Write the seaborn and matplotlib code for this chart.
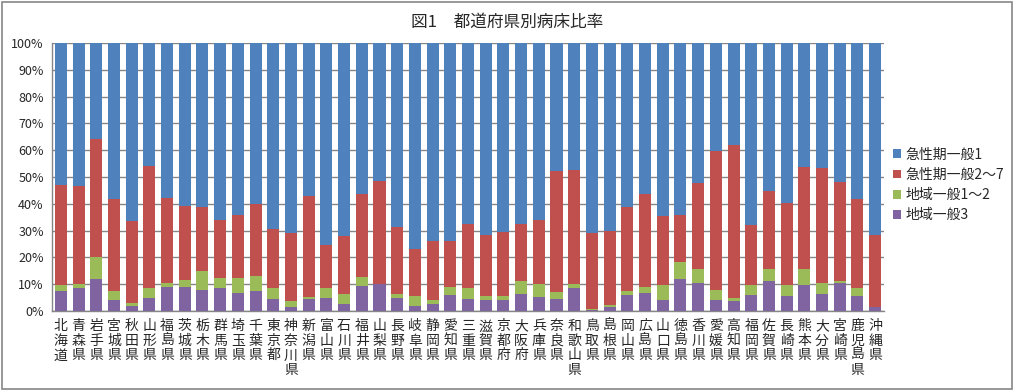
import numpy as np
import pandas as pd
import seaborn as sns
import matplotlib.pyplot as plt
from matplotlib.patches import Rectangle
from matplotlib.ticker import FixedLocator, PercentFormatter

prefs = ['北海道', '青森県', '岩手県', '宮城県', '秋田県', '山形県', '福島県', '茨城県',
         '栃木県', '群馬県', '埼玉県', '千葉県', '東京都', '神奈川県', '新潟県', '富山県',
         '石川県', '福井県', '山梨県', '長野県', '岐阜県', '静岡県', '愛知県', '三重県',
         '滋賀県', '京都府', '大阪府', '兵庫県', '奈良県', '和歌山県', '鳥取県', '島根県',
         '岡山県', '広島県', '山口県', '徳島県', '香川県', '愛媛県', '高知県', '福岡県',
         '佐賀県', '長崎県', '熊本県', '大分県', '宮崎県', '鹿児島県', '沖縄県']

# shares in % (bottom to top); 急性期一般1 is the remainder up to 100
chiiki3 = [7.6, 8.7, 12.1, 4.2, 2.0, 5.0, 9.1, 9.1, 8.0, 8.7, 6.9, 7.6, 4.6, 1.6, 4.6, 5.0,
           2.7, 9.5, 9.9, 5.0, 2.0, 2.7, 6.1, 4.6, 4.2, 4.2, 6.5, 5.4, 4.6, 8.7, 0.2, 1.6,
           6.1, 6.9, 4.2, 12.1, 10.6, 4.2, 3.9, 6.1, 11.3, 5.7, 9.6, 6.5, 10.6, 5.7, 1.4]
chiiki12 = [2.2, 1.5, 8.0, 3.4, 1.1, 3.7, 1.5, 2.6, 7.1, 3.8, 5.6, 5.6, 4.1, 2.3, 0.8, 3.4,
            3.8, 3.3, 0.3, 1.5, 3.7, 1.5, 3.0, 3.8, 1.5, 1.5, 4.8, 4.8, 2.6, 1.5, 0.7, 0.8,
            1.5, 2.2, 5.4, 6.0, 5.2, 3.8, 1.1, 3.5, 4.5, 3.9, 6.0, 4.1, 0.5, 2.7, 0.0]
kyusei27 = [37.2, 36.3, 44.1, 34.2, 30.4, 45.3, 31.4, 27.3, 23.7, 21.3, 23.3, 26.6, 21.8, 25.2, 37.4, 16.4,
            21.3, 30.7, 38.3, 25.0, 17.6, 22.1, 17.2, 23.9, 22.6, 23.6, 21.0, 23.6, 45.0, 42.3, 28.2, 27.6,
            31.2, 34.4, 25.7, 17.7, 32.0, 51.7, 57.0, 22.4, 29.0, 30.7, 38.1, 42.6, 36.9, 33.4, 26.9]
kyusei1 = [100 - a - b - c for a, b, c in zip(chiiki3, chiiki12, kyusei27)]

series = ['急性期一般1', '急性期一般2～7', '地域一般1～2', '地域一般3']
colors = ['#4F81BD', '#C0504D', '#9BBB59', '#8064A2']

df = pd.DataFrame({'pref': prefs, 'p': chiiki3, 'g': chiiki12, 'r': kyusei27, 'b': kyusei1})
# cumulative heights for stacking, drawn from the top segment down
df['c4'] = df['p']
df['c3'] = df['c4'] + df['g']
df['c2'] = df['c3'] + df['r']
df['c1'] = df['c2'] + df['b']

sns.set_style('white')
plt.rcParams['font.family'] = ['Noto Sans CJK JP', 'DejaVu Sans']

fig = plt.figure(figsize=(10.14, 3.91), dpi=100)
ax = fig.add_axes([52 / 1014, 1 - 311 / 391, 832 / 1014, 268 / 391])

for col, lab, c in zip(['c1', 'c2', 'c3', 'c4'], series, colors):
    sns.barplot(data=df, x='pref', y=col, color=c, width=0.68, label=lab,
                saturation=1, ax=ax, zorder=3, linewidth=0)

ax.set_ylim(0, 100)
ax.set_xlim(-0.5, len(prefs) - 0.5)
ax.set_yticks(np.arange(0, 101, 10))
ax.yaxis.set_major_formatter(PercentFormatter(decimals=0))
ax.grid(axis='y', color='#868686', linewidth=1, zorder=0)
ax.set_axisbelow(True)

ax.set_xticks(range(len(prefs)))
ax.set_xticklabels(['\n'.join(p) for p in prefs], fontsize=10, linespacing=1.05, va='top')
ax.xaxis.set_minor_locator(FixedLocator(np.arange(-0.5, len(prefs), 1)))
ax.tick_params(axis='x', which='major', length=0, pad=6)
ax.tick_params(axis='x', which='minor', length=5, color='#868686', width=1, direction='out')
ax.tick_params(axis='y', length=4, color='#868686', width=1, direction='out', labelsize=9, pad=2)
ax.set_xlabel('')
ax.set_ylabel('')

for s in ['top', 'right']:
    ax.spines[s].set_visible(False)
for s in ['left', 'bottom']:
    ax.spines[s].set_color('#868686')
    ax.spines[s].set_linewidth(1)

leg = ax.legend(loc='upper left', bbox_to_anchor=(887 / 1014, 1 - 142 / 391),
                bbox_transform=fig.transFigure, frameon=False, fontsize=10,
                handlelength=0.6, handleheight=0.6, handletextpad=0.3,
                labelspacing=0.45, borderaxespad=0)

fig.text(0.5, 1 - 22 / 391, '図1　都道府県別病床比率', ha='center', va='center', fontsize=12)

fig.patches.append(Rectangle((2 / 1014, 2 / 391), 1 - 4 / 1014, 1 - 4 / 391,
                             transform=fig.transFigure, fill=False,
                             edgecolor='#868686', linewidth=1.2))

plt.savefig('out.png', dpi=100)
plt.close()
